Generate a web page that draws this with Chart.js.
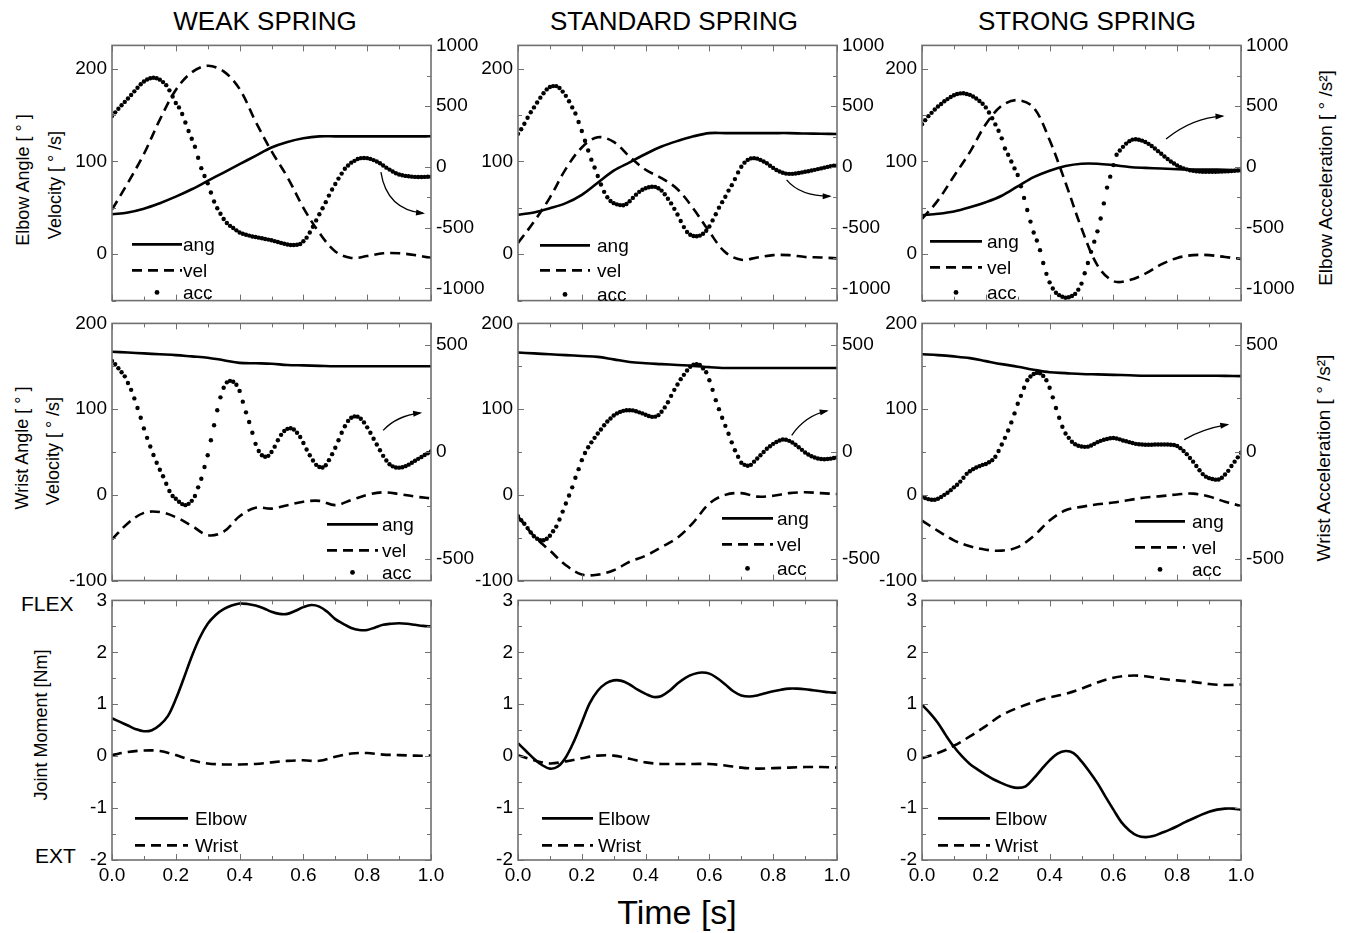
<!DOCTYPE html>
<html>
<head>
<meta charset="utf-8">
<script src="https://cdn.jsdelivr.net/npm/chart.js@4.4.1/dist/chart.umd.min.js"></script>
<style>
html, body { margin: 0; padding: 0; background: #fff; }
#fig { position: relative; width: 1347px; height: 933px; overflow: hidden; font-family: 'Liberation Sans', Arial, sans-serif; color: #000; }
.lbl { position: absolute; white-space: nowrap; line-height: 1; transform: translate(-50%, -50%); }
.rot { transform: translate(-50%, -50%) rotate(-90deg); }
.lft { position: absolute; white-space: nowrap; line-height: 1; transform: translateY(-50%); }
</style>
</head>
<body>
<div id="fig">
  <div class="lbl" style="left:265px;top:21px;font-size:26px">WEAK SPRING</div>
  <div class="lbl" style="left:674px;top:21px;font-size:26px">STANDARD SPRING</div>
  <div class="lbl" style="left:1087px;top:21px;font-size:26px">STRONG SPRING</div>

  <div class="lbl rot" style="left:23px;top:180px;font-size:18px">Elbow Angle [ ° ]</div>
  <div class="lbl rot" style="left:55px;top:185px;font-size:18px">Velocity [ ° /s]</div>
  <div class="lbl rot" style="left:22px;top:448px;font-size:18px">Wrist Angle [ ° ]</div>
  <div class="lbl rot" style="left:53px;top:451px;font-size:18px">Velocity [ ° /s]</div>
  <div class="lbl rot" style="left:41px;top:725px;font-size:18px">Joint Moment [Nm]</div>
  <div class="lft" style="left:21px;top:603px;font-size:21px">FLEX</div>
  <div class="lft" style="left:35px;top:855px;font-size:21px">EXT</div>

  <div class="lbl rot" style="left:1325px;top:178px;font-size:19px">Elbow Acceleration [ ° /s²]</div>
  <div class="lbl rot" style="left:1323px;top:458px;font-size:19px">Wrist Acceleration [ ° /s²]</div>

  <div class="lbl" style="left:677px;top:912px;font-size:34px">Time [s]</div>
</div>
<script>
// ---- tick labels ----
const TIME_TICKS = [0, 0.2, 0.4, 0.6, 0.8, 1.0];
const ELBOW_ANG_TICKS = [0, 100, 200];
const ELBOW_ACC_TICKS = [-1000, -500, 0, 500, 1000];
const WRIST_ANG_TICKS = [-100, 0, 100, 200];
const WRIST_ACC_TICKS = [-500, 0, 500];
const MOMENT_TICKS = [-2, -1, 0, 1, 2, 3];

// ---- sample times (s) ----
const T05 = Array.from({ length: 21 }, (_, i) => i / 20);
const T025 = Array.from({ length: 41 }, (_, i) => i / 40);
const T01 = Array.from({ length: 101 }, (_, i) => i / 100);

// ---- elbow: angle [deg], velocity [deg/s] every 0.05 s, acceleration [deg/s^2] every 0.01 s ----
const WEAK_ELBOW_ANG = [43, 45, 49, 55, 62, 70, 79, 88, 97, 106, 115, 121, 125, 127, 127, 127, 127, 127, 127, 127, 127];
const WEAK_ELBOW_VEL = [48, 77, 108, 145, 177, 196, 203, 197, 178, 143, 111, 83, 50, 23, 3, -4, -2, 1, 1, -1, -4];
const WEAK_ELBOW_ACC = [
  419, 449, 479, 508, 535, 563, 592, 622, 652, 680,
  703, 720, 730, 734, 730, 718, 698, 673, 630, 580,
  526, 490, 435, 365, 295, 232, 166, 75, -10, -75,
  -135, -210, -285, -340, -385, -428, -462, -485, -502, -522,
  -540, -550, -558, -565, -572, -577, -582, -587, -593, -598,
  -604, -611, -618, -625, -632, -638, -642, -643, -640, -634,
  -612, -582, -540, -492, -440, -390, -340, -290, -236, -186,
  -140, -96, -55, -15, 12, 35, 50, 65, 72, 74,
  72, 66, 56, 45, 30, 12, -6, -22, -38, -52,
  -62, -69, -74, -77, -80, -82, -83, -83, -82, -81,
  -80];

const STD_ELBOW_ANG = [42.5, 45, 49.5, 55, 64, 77, 90, 99, 108, 116, 122, 127, 130.5, 130.5, 130.5, 130.5, 130.5, 130.5, 130, 129.8, 129.6];
const STD_ELBOW_VEL = [12, 35, 61, 92, 115, 126, 121, 105, 91, 82, 70, 49, 24, 2, -6, -3.5, -1, -1, -3, -3.5, -4.5];
const STD_ELBOW_ACC = [
  272, 310, 355, 405, 450, 490, 530, 570, 606, 638,
  658, 665, 665, 650, 620, 585, 540, 490, 440, 370,
  295, 215, 135, 60, -5, -75, -145, -205, -250, -280,
  -298, -308, -314, -315, -305, -282, -255, -228, -205, -188,
  -175, -167, -163, -164, -175, -195, -225, -262, -300, -345,
  -392, -445, -495, -535, -558, -568, -571, -565, -550, -525,
  -490, -440, -390, -335, -290, -245, -195, -150, -100, -45,
  2, 35, 58, 70, 72, 68, 58, 45, 30, 10,
  -8, -25, -38, -48, -55, -57, -57, -54, -50, -45,
  -40, -35, -30, -24, -18, -12, -6, 0, 5, 10,
  13];

const STRONG_ELBOW_ANG = [42, 43.5, 46, 50.5, 56, 63, 73, 83, 90, 95, 97.5, 97.5, 96, 94, 93, 92.3, 91.6, 91.3, 91.3, 91, 90.6];
const STRONG_ELBOW_VEL = [38, 58, 84, 110, 140, 160, 166, 158, 123, 77, 28, -12, -29, -28, -21, -11, -4, -1, -1, -3, -5];
const STRONG_ELBOW_ACC = [
  352, 385, 418, 445, 472, 497, 518, 540, 558, 575,
  590, 600, 605, 606, 600, 593, 580, 563, 543, 520,
  490, 448, 400, 350, 298, 235, 152, 100, 45, -12,
  -66, -160, -255, -355, -450, -540, -605, -685, -790, -880,
  -950, -1000, -1035, -1055, -1068, -1076, -1072, -1062, -1045, -1010,
  -960, -875, -790, -699, -615, -530, -425, -300, -170, -80,
  15, 100, 135, 165, 192, 212, 225, 228, 224, 216,
  205, 190, 172, 152, 130, 108, 86, 65, 45, 28,
  12, -2, -12, -20, -27, -32, -36, -38, -40, -40,
  -40, -40, -40, -39, -38, -37, -35, -33, -31, -30,
  -29];

// ---- wrist ----
const WEAK_WRIST_ANG = [167, 166, 165, 164, 163, 161.5, 160, 157, 154, 153.5, 153, 151.5, 151, 150.5, 150, 150, 150, 150, 150, 150, 150];
const WEAK_WRIST_VEL = [-52, -33, -21, -20, -26, -36, -47, -43, -25, -15, -16, -12, -8, -7, -12, -6, 0, 3, 1, -2, -4];
const WEAK_WRIST_ACC = [
  425, 410, 391, 372, 353, 322, 290, 250, 205, 160,
  110, 66, 26, -14, -50, -83, -113, -148, -182, -205,
  -218, -232, -243, -248, -242, -228, -205, -165, -125, -70,
  -15, 55, 125, 195, 255, 300, 325, 332, 328, 314,
  285, 235, 185, 140, 90, 38, 5, -15, -22, -18,
  0, 25, 55, 80, 98, 108, 111, 105, 90, 70,
  42, 12, -15, -40, -60, -70, -72, -62, -38, -10,
  20, 55, 90, 120, 145, 160, 166, 165, 155, 138,
  115, 90, 62, 35, 8, -18, -40, -57, -67, -72,
  -73, -71, -66, -59, -50, -41, -32, -23, -14, -6,
  2];

const STD_WRIST_ANG = [166, 165, 164, 163, 162, 161, 158, 155, 153.5, 152.5, 151.5, 150.5, 149, 148, 148, 148, 148, 148, 148, 148, 148];
const STD_WRIST_VEL = [-25, -48, -65, -82, -93, -93, -88, -78, -71, -61, -50, -32, -10, 0, 2, -2, -1, 2, 3, 2, 1];
const STD_WRIST_ACC = [
  -299, -318, -335, -355, -375, -393, -405, -412, -412, -405,
  -391, -370, -348, -315, -278, -240, -203, -165, -120, -80,
  -38, -5, 22, 45, 66, 86, 105, 125, 142, 156,
  170, 180, 187, 192, 195, 195, 194, 190, 185, 180,
  174, 168, 164, 165, 172, 188, 208, 232, 262, 290,
  315, 340, 360, 380, 398, 407, 410, 406, 390, 372,
  335, 290, 242, 200, 160, 122, 85, 45, 8, -22,
  -50, -60, -64, -60, -45, -30, -15, 0, 15, 27,
  38, 47, 54, 58, 57, 52, 44, 34, 22, 10,
  -2, -12, -20, -26, -30, -33, -34, -33, -31, -28,
  -26];

const STRONG_WRIST_ANG = [164, 163, 161.5, 159.5, 156, 152.5, 149.5, 146, 143, 142, 141, 140.5, 140, 139.5, 139, 139, 139, 139, 139, 138.8, 138.5];
const STRONG_WRIST_VEL = [-30, -42, -53, -60, -64, -65, -61, -48, -30, -18, -14, -11, -9, -6, -3, -1.5, 0.5, 1.5, -2, -8, -13];
const STRONG_WRIST_ACC = [
  -208, -215, -220, -223, -223, -218, -210, -200, -190, -178,
  -165, -153, -138, -120, -102, -90, -80, -72, -66, -60,
  -56, -48, -38, -22, 5, 35, 66, 100, 138, 180,
  225, 262, 300, 335, 352, 364, 369, 367, 355, 335,
  300, 255, 205, 160, 118, 86, 66, 48, 36, 29,
  26, 24, 25, 30, 38, 46, 52, 57, 61, 64,
  65, 63, 59, 54, 50, 46, 42, 38, 36, 35,
  34, 34, 34, 35, 35, 35, 35, 35, 34, 33,
  28, 18, 5, -10, -28, -45, -65, -85, -103, -115,
  -122, -126, -129, -128, -120, -105, -88, -65, -45, -25,
  -3];

// ---- joint moments [Nm]: elbow every 0.025 s, wrist every 0.05 s ----
const WEAK_ELBOW_MOM = [0.73, 0.66, 0.59, 0.52, 0.48, 0.5, 0.6, 0.77, 1.1, 1.5, 1.92, 2.28, 2.55, 2.72, 2.83, 2.9, 2.94, 2.93, 2.9, 2.85, 2.78,
  2.74, 2.74, 2.8, 2.87, 2.91, 2.88, 2.78, 2.64, 2.55, 2.47, 2.43, 2.43, 2.48, 2.53, 2.55, 2.56, 2.55, 2.53, 2.51, 2.5];
const WEAK_WRIST_MOM = [0.02, 0.08, 0.11, 0.1, 0.02, -0.08, -0.14, -0.16, -0.16, -0.15, -0.12, -0.09, -0.08, -0.09, -0.01, 0.05, 0.06, 0.03, 0.02, 0.01, 0.01];
const STD_ELBOW_MOM = [0.25, 0.1, -0.05, -0.17, -0.24, -0.2, -0.02, 0.28, 0.65, 1.02, 1.26, 1.4, 1.46, 1.45, 1.38, 1.28, 1.2, 1.14, 1.16, 1.26, 1.4,
  1.51, 1.58, 1.61, 1.59, 1.5, 1.38, 1.25, 1.17, 1.15, 1.17, 1.21, 1.25, 1.28, 1.3, 1.3, 1.29, 1.27, 1.25, 1.23, 1.22];
const STD_WRIST_MOM = [0.02, -0.08, -0.14, -0.1, -0.04, 0.01, 0.01, -0.05, -0.12, -0.15, -0.15, -0.15, -0.15, -0.18, -0.22, -0.24, -0.23, -0.22, -0.21, -0.21, -0.22];
const STRONG_ELBOW_MOM = [0.99, 0.83, 0.64, 0.4, 0.18, 0, -0.15, -0.26, -0.36, -0.45, -0.52, -0.58, -0.61, -0.58, -0.43, -0.25, -0.08, 0.05, 0.1, 0.06, -0.1,
  -0.3, -0.52, -0.78, -1.03, -1.27, -1.43, -1.53, -1.56, -1.54, -1.48, -1.42, -1.35, -1.27, -1.2, -1.13, -1.07, -1.03, -1.01, -1.01, -1.03];
const STRONG_WRIST_MOM = [-0.04, 0.06, 0.2, 0.38, 0.58, 0.79, 0.93, 1.04, 1.13, 1.2, 1.3, 1.42, 1.51, 1.55, 1.54, 1.49, 1.46, 1.43, 1.39, 1.37, 1.38];

// ---- layout ----
const COL_LEFT = [112, 518, 922];
const ROW_TOP = [43, 321, 598];
const ROW_H = [260, 262, 262];
const PLOT_W = 319;
const AXIS_W = 70, PAD = 14, XAXIS_H = 36;
const FONT = "'Liberation Sans', Arial, sans-serif";

Chart.defaults.font.family = FONT;
Chart.defaults.font.size = 19;
Chart.defaults.color = '#000';

const pts = (t, v) => v.map((y, i) => ({ x: t[i], y }));

function addCanvas(col, row) {
  const c = document.createElement('canvas');
  const w = PLOT_W + 2 * AXIS_W;
  const h = ROW_H[row] + PAD + (row === 2 ? XAXIS_H : PAD);
  c.width = w; c.height = h;
  c.style.cssText = `position:absolute;left:${COL_LEFT[col] - AXIS_W}px;top:${ROW_TOP[row] - PAD}px;width:${w}px;height:${h}px`;
  document.getElementById('fig').appendChild(c);
  return c;
}

function yAxis(pos, min, max, ticks) {
  return {
    type: 'linear', position: pos, min, max,
    grid: { display: false, drawTicks: false }, border: { display: false },
    afterBuildTicks: s => { s.ticks = ticks.map(v => ({ value: v })); },
    afterFit: s => { s.width = AXIS_W; },
    ticks: { padding: 5, callback: v => String(v) }
  };
}

// major ticks plus a minor one half way between them, all pointing inward
function tickMarks(major, min, max) {
  const step = major[1] - major[0];
  const out = [];
  for (let v = major[0] - step; v <= max + 1e-9; v += step / 2) {
    if (v < min - 1e-9) continue;
    out.push([v, major.some(m => Math.abs(m - v) < 1e-6)]);
  }
  return out;
}

function framePlugin(spec) {
  return {
    id: 'frame',
    afterDatasetsDraw(chart) {
      const { ctx, chartArea: a, scales } = chart;
      const x = scales.x, yl = scales.y, yr = scales.y2;
      ctx.save();
      ctx.strokeStyle = '#707070';
      ctx.lineWidth = 1;
      ctx.setLineDash([]);
      ctx.beginPath();
      tickMarks(TIME_TICKS, 0, 1).forEach(([v, major]) => {
        const px = Math.round(x.getPixelForValue(v)) + 0.5, len = major ? 6 : 4;
        ctx.moveTo(px, a.bottom); ctx.lineTo(px, a.bottom - len);
        ctx.moveTo(px, a.top); ctx.lineTo(px, a.top + len);
      });
      tickMarks(spec.leftTicks, yl.min, yl.max).forEach(([v, major]) => {
        const py = Math.round(yl.getPixelForValue(v)) + 0.5, len = major ? 6 : 4;
        ctx.moveTo(a.left, py); ctx.lineTo(a.left + len, py);
        if (!yr) { ctx.moveTo(a.right, py); ctx.lineTo(a.right - len, py); }
      });
      if (yr) {
        tickMarks(spec.rightTicks, yr.min, yr.max).forEach(([v, major]) => {
          const py = Math.round(yr.getPixelForValue(v)) + 0.5, len = major ? 6 : 4;
          ctx.moveTo(a.right, py); ctx.lineTo(a.right - len, py);
        });
      }
      ctx.stroke();
      ctx.lineWidth = 1.6;
      ctx.strokeRect(a.left, a.top, a.right - a.left, a.bottom - a.top);

      // legend
      const lg = spec.legend;
      ctx.strokeStyle = '#000';
      ctx.fillStyle = '#000';
      ctx.font = `19px ${FONT}`;
      ctx.textBaseline = 'middle';
      lg.items.forEach(([label, kind], i) => {
        const y = a.top + lg.ys[i];
        if (kind === 'dot') {
          ctx.beginPath();
          ctx.arc(a.left + (lg.x0 + lg.x1) / 2, y, 2.4, 0, Math.PI * 2);
          ctx.fill();
        } else {
          ctx.lineWidth = 2.6;
          ctx.setLineDash(kind === 'dash' ? [10, 6] : []);
          ctx.beginPath();
          ctx.moveTo(a.left + lg.x0, y); ctx.lineTo(a.left + lg.x1, y);
          ctx.stroke();
        }
        ctx.fillText(label, a.left + lg.tx, y + 1);
      });

      // curved arrow pointing to the acceleration axis
      if (spec.arrow && yr) {
        const [t0, a0, tc, ac, t1, a1] = spec.arrow;
        const p0 = [x.getPixelForValue(t0), yr.getPixelForValue(a0)];
        const pc = [x.getPixelForValue(tc), yr.getPixelForValue(ac)];
        const p1 = [x.getPixelForValue(t1), yr.getPixelForValue(a1)];
        ctx.setLineDash([]);
        ctx.lineWidth = 1.3;
        ctx.beginPath();
        ctx.moveTo(p0[0], p0[1]);
        ctx.quadraticCurveTo(pc[0], pc[1], p1[0], p1[1]);
        ctx.stroke();
        const ang = Math.atan2(p1[1] - pc[1], p1[0] - pc[0]);
        ctx.beginPath();
        ctx.moveTo(p1[0] + 2 * Math.cos(ang), p1[1] + 2 * Math.sin(ang));
        ctx.lineTo(p1[0] - 7 * Math.cos(ang) + 3 * Math.sin(ang), p1[1] - 7 * Math.sin(ang) - 3 * Math.cos(ang));
        ctx.lineTo(p1[0] - 7 * Math.cos(ang) - 3 * Math.sin(ang), p1[1] - 7 * Math.sin(ang) + 3 * Math.cos(ang));
        ctx.closePath();
        ctx.fill();
      }
      ctx.restore();
    }
  };
}

const baseOptions = (row, scales, rightPad) => ({
  responsive: false, animation: false, devicePixelRatio: 1,
  layout: { autoPadding: false, padding: { top: PAD, bottom: row === 2 ? 0 : PAD, left: 0, right: rightPad } },
  plugins: { legend: { display: false }, tooltip: { enabled: false } },
  scales
});

function kinematics(col, row, ang, vel, acc, angTicks, angMin, angMax, accTicks, accMin, accMax, legend, arrow) {
  new Chart(addCanvas(col, row), {
    type: 'line',
    data: {
      datasets: [
        { label: 'ang', data: pts(T05, ang), borderColor: '#000', borderWidth: 2.6, pointRadius: 0, tension: 0.35, yAxisID: 'y' },
        { label: 'vel', data: pts(T05, vel), borderColor: '#000', borderWidth: 2.6, borderDash: [10, 6], pointRadius: 0, tension: 0.35, yAxisID: 'y' },
        { label: 'acc', data: pts(T01, acc), showLine: false, pointRadius: 2.2, pointBackgroundColor: '#000', pointBorderColor: '#000', pointBorderWidth: 0, yAxisID: 'y2' }
      ]
    },
    options: baseOptions(row, {
      x: { type: 'linear', min: 0, max: 1, display: false },
      y: yAxis('left', angMin, angMax, angTicks),
      y2: yAxis('right', accMin, accMax, accTicks)
    }, 0),
    plugins: [framePlugin({ leftTicks: angTicks, rightTicks: accTicks, legend: { ...legend, items: [['ang', 'solid'], ['vel', 'dash'], ['acc', 'dot']] }, arrow })]
  });
}

function moments(col, elbow, wrist, legend) {
  new Chart(addCanvas(col, 2), {
    type: 'line',
    data: {
      datasets: [
        { label: 'Elbow', data: pts(T025, elbow), borderColor: '#000', borderWidth: 2.6, pointRadius: 0, tension: 0.35 },
        { label: 'Wrist', data: pts(T05, wrist), borderColor: '#000', borderWidth: 2.6, borderDash: [10, 6], pointRadius: 0, tension: 0.35 }
      ]
    },
    options: baseOptions(2, {
      x: {
        type: 'linear', min: 0, max: 1, position: 'bottom',
        grid: { display: false, drawTicks: false }, border: { display: false },
        afterBuildTicks: s => { s.ticks = TIME_TICKS.map(v => ({ value: v })); },
        afterFit: s => { s.height = XAXIS_H; },
        ticks: { padding: 4, maxRotation: 0, autoSkip: false, callback: v => v.toFixed(1) }
      },
      y: yAxis('left', -2, 3, MOMENT_TICKS)
    }, AXIS_W),
    plugins: [framePlugin({ leftTicks: MOMENT_TICKS, legend: { ...legend, items: [['Elbow', 'solid'], ['Wrist', 'dash']] } })]
  });
}

// row 1: elbow
kinematics(0, 0, WEAK_ELBOW_ANG, WEAK_ELBOW_VEL, WEAK_ELBOW_ACC, ELBOW_ANG_TICKS, -50, 225, ELBOW_ACC_TICKS, -1100, 1000,
  { x0: 20, x1: 70, tx: 71, ys: [199, 225, 247] }, [0.843, -42, 0.861, -349, 0.975, -381]);
kinematics(1, 0, STD_ELBOW_ANG, STD_ELBOW_VEL, STD_ELBOW_ACC, ELBOW_ANG_TICKS, -50, 225, ELBOW_ACC_TICKS, -1100, 1000,
  { x0: 22, x1: 72, tx: 79, ys: [200, 225, 249] }, [0.842, -107, 0.884, -241, 0.977, -241]);
kinematics(2, 0, STRONG_ELBOW_ANG, STRONG_ELBOW_VEL, STRONG_ELBOW_ACC, ELBOW_ANG_TICKS, -50, 225, ELBOW_ACC_TICKS, -1100, 1000,
  { x0: 8, x1: 60, tx: 65, ys: [196, 222, 247] }, [0.765, 230, 0.848, 405, 0.942, 418]);

// row 2: wrist
kinematics(0, 1, WEAK_WRIST_ANG, WEAK_WRIST_VEL, WEAK_WRIST_ACC, WRIST_ANG_TICKS, -100, 200, WRIST_ACC_TICKS, -600, 600,
  { x0: 215, x1: 266, tx: 270, ys: [201, 227, 249] }, [0.85, 101, 0.892, 169, 0.966, 182]);
kinematics(1, 1, STD_WRIST_ANG, STD_WRIST_VEL, STD_WRIST_ACC, WRIST_ANG_TICKS, -100, 200, WRIST_ACC_TICKS, -600, 600,
  { x0: 204, x1: 255, tx: 259, ys: [195, 221, 245] }, [0.858, 78, 0.9, 169, 0.968, 192]);
kinematics(2, 1, STRONG_WRIST_ANG, STRONG_WRIST_VEL, STRONG_WRIST_ACC, WRIST_ANG_TICKS, -100, 200, WRIST_ACC_TICKS, -600, 600,
  { x0: 213, x1: 263, tx: 270, ys: [198, 224, 246] }, [0.822, 58, 0.879, 108, 0.957, 128]);

// row 3: joint moments
moments(0, WEAK_ELBOW_MOM, WEAK_WRIST_MOM, { x0: 23, x1: 76, tx: 83, ys: [218, 245] });
moments(1, STD_ELBOW_MOM, STD_WRIST_MOM, { x0: 24, x1: 75, tx: 80, ys: [218, 245] });
moments(2, STRONG_ELBOW_MOM, STRONG_WRIST_MOM, { x0: 16, x1: 68, tx: 73, ys: [218, 245] });
</script>
</body>
</html>
